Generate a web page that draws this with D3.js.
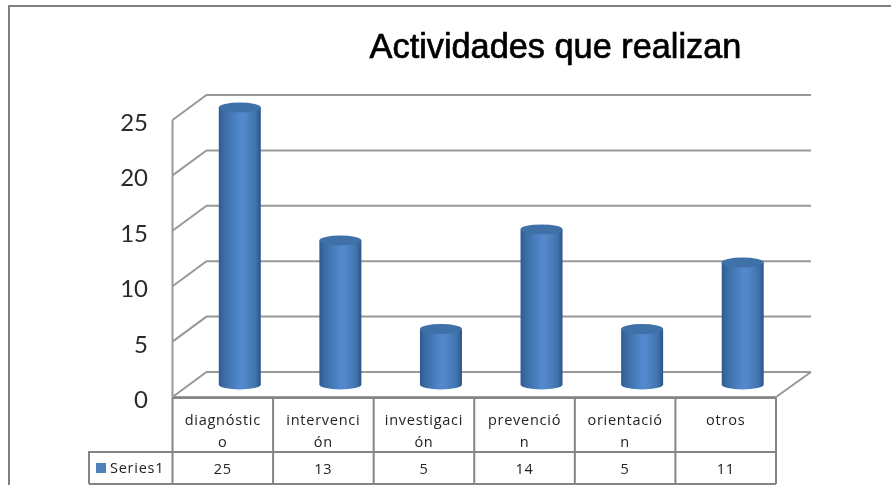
<!DOCTYPE html>
<html>
<head>
<meta charset="utf-8">
<script src="https://cdn.jsdelivr.net/npm/d3@7"></script>
<style>
  html, body { margin: 0; padding: 0; background: #fff; }
  svg { display: block; }
</style>
</head>
<body>
<div id="vis"></div>
<script>
var categories = ['diagnóstico', 'intervención', 'investigación', 'prevención', 'orientación', 'otros'];
// the table breaks the words in two lines, same as the original
var categoryLines = [['diagnóstic', 'o'], ['intervenci', 'ón'], ['investigaci', 'ón'], ['prevenció', 'n'], ['orientació', 'n'], ['otros']];
var values = [25, 13, 5, 14, 5, 11];
var yTicks = [0, 5, 10, 15, 20, 25];
var seriesName = 'Series1';
var title = 'Actividades que realizan';

var width = 891,
    height = 485,
    depthX = 34,
    depthY = 25,
    barWidth = 42,
    gridColor = '#999',
    tableColor = '#858585';

var svg = d3.select('#vis')
  .append('svg')
    .attr('width', width)
    .attr('height', height);

var defs = svg.append('defs');

var grad = defs.append('linearGradient')
    .attr('id', 'barGrad');
grad.selectAll('stop')
  .data([[0, '#2f5a8f'], [0.12, '#3a6ba3'], [0.5, '#5289cd'], [0.62, '#5287c8'], [0.88, '#3f72ad'], [1, '#2c5585']])
  .enter()
  .append('stop')
    .attr('offset', function(d) { return d[0]; })
    .attr('stop-color', function(d) { return d[1]; });

// source is a slightly soft screenshot
defs.append('filter')
    .attr('id', 'soft')
  .append('feGaussianBlur')
    .attr('stdDeviation', 0.5);

var root = svg.append('g').attr('filter', 'url(#soft)');

var xScale = d3.scaleBand()
  .domain(categories)
  .range([172.5, 776]);

var yScale = d3.scaleLinear()
  .domain([0, 25])
  .range([397, 120]);

// outer frame of the chart area
root.append('path')
    .attr('d', d3.line()([[9, height], [9, 6], [width, 6]]))
    .attr('fill', 'none')
    .attr('stroke', '#808080')
    .attr('stroke-width', 2);

// back wall gridlines
root.selectAll('.grid')
  .data(yTicks)
  .enter()
  .append('path')
    .attr('class', 'grid')
    .attr('fill', 'none')
    .attr('stroke', gridColor)
    .attr('stroke-width', 2)
    .attr('d', function(d) {
      var y = yScale(d);
      return d3.line()([[172.5, y], [172.5 + depthX, y - depthY], [811, y - depthY]]);
    });

// left wall edge and floor
root.append('path')
    .attr('d', d3.line()([[172.5, yScale(25)], [172.5, yScale(0)], [776, yScale(0)], [811, yScale(0) - depthY]]))
    .attr('fill', 'none')
    .attr('stroke', gridColor)
    .attr('stroke-width', 2);

root.append('g')
    .attr('font-family', 'Lato, "Open Sans", sans-serif')
    .attr('font-size', 24)
    .attr('fill', '#2a2a2a')
    .attr('text-anchor', 'end')
  .selectAll('text')
  .data(yTicks)
  .enter()
  .append('text')
    .attr('x', 148)
    .attr('y', function(d) { return yScale(d) + 11; })
    .text(function(d) { return d; });

// cylinders
var bars = root.selectAll('.bar')
  .data(values)
  .enter()
  .append('g')
    .attr('class', 'bar')
    .attr('transform', function(d, i) {
      return 'translate(' + (xScale(categories[i]) + xScale.bandwidth() / 2 + depthX / 2 - barWidth / 2) + ',' + (-depthY / 2) + ')';
    });

bars.append('path')
    .attr('fill', 'url(#barGrad)')
    .attr('d', function(d) {
      var top = yScale(d), bottom = yScale(0), r = barWidth / 2;
      return 'M0,' + top + 'L0,' + bottom +
        'A' + r + ',5 0 0 0 ' + barWidth + ',' + bottom +
        'L' + barWidth + ',' + top + 'Z';
    });

bars.append('ellipse')
    .attr('cx', barWidth / 2)
    .attr('cy', function(d) { return yScale(d); })
    .attr('rx', barWidth / 2)
    .attr('ry', 5)
    .attr('fill', '#3f70a8');

// data table
var rows = [398, 452, 484];
var colEdges = xScale.domain().map(function(c) { return xScale(c); }).concat([776]);
var table = root.append('g')
    .attr('stroke', tableColor)
    .attr('stroke-width', 2)
    .attr('fill', 'none');

table.selectAll('.v')
  .data(colEdges)
  .enter()
  .append('line')
    .attr('x1', function(d) { return d; })
    .attr('x2', function(d) { return d; })
    .attr('y1', rows[0])
    .attr('y2', rows[2]);

table.append('path')
    .attr('d', d3.line()([[89, rows[2]], [89, rows[1]], [776, rows[1]]]));
table.append('line')
    .attr('x1', 89).attr('x2', 776).attr('y1', rows[2]).attr('y2', rows[2]);
table.append('line')
    .attr('x1', 172.5).attr('x2', 776).attr('y1', rows[0]).attr('y2', rows[0]);

var tableText = root.append('g')
    .attr('font-family', '"Open Sans", sans-serif')
    .attr('font-size', 14.5)
    .attr('letter-spacing', 0.75)
    .attr('fill', '#222')
    .attr('text-anchor', 'middle');

categoryLines.forEach(function(lines, i) {
  var cx = xScale(categories[i]) + xScale.bandwidth() / 2;
  lines.forEach(function(line, j) {
    tableText.append('text')
        .attr('x', cx)
        .attr('y', 425 + j * 22)
        .text(line);
  });
  tableText.append('text')
      .attr('x', cx)
      .attr('y', 474)
      .text(values[i]);
});

tableText.append('text')
    .attr('x', 110)
    .attr('y', 473)
    .attr('text-anchor', 'start')
    .text(seriesName);

root.append('rect')
    .attr('x', 96)
    .attr('y', 463)
    .attr('width', 10)
    .attr('height', 10)
    .attr('fill', '#4f81bd');

root.append('text')
    .attr('x', 555.5)
    .attr('y', 58)
    .attr('text-anchor', 'middle')
    .attr('font-family', '"Liberation Sans", Arial, sans-serif')
    .attr('font-size', 34.3)
    .attr('stroke', '#000')
    .attr('stroke-width', 0.7)
    .attr('fill', '#000')
    .text(title);
</script>
</body>
</html>
